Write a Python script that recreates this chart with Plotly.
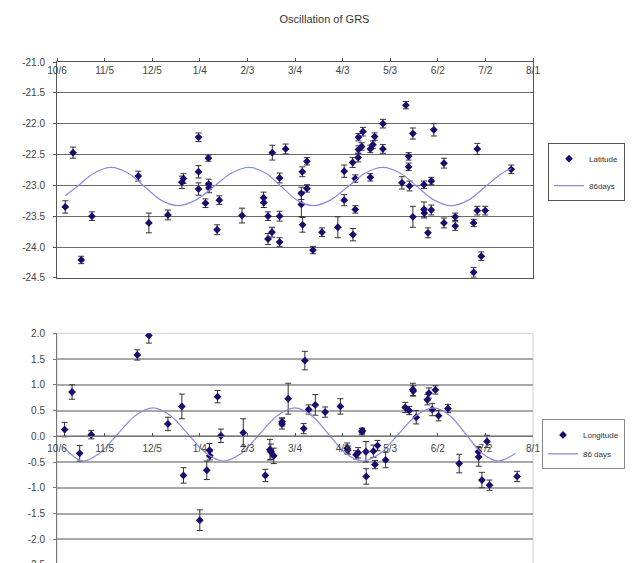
import pandas as pd
import plotly.graph_objects as go

BASE = pd.Timestamp("2007-10-06")

tick_dates = ["2007-10-06", "2007-11-05", "2007-12-05", "2008-01-04", "2008-02-03",
              "2008-03-04", "2008-04-03", "2008-05-03", "2008-06-02", "2008-07-02", "2008-08-01"]
tick_labels = ["10/6", "11/5", "12/5", "1/4", "2/3", "3/4", "4/3", "5/3", "6/2", "7/2", "8/1"]

lat_ticks = [-21.0, -21.5, -22.0, -22.5, -23.0, -23.5, -24.0, -24.5]
lon_ticks = [2.0, 1.5, 1.0, 0.5, 0.0, -0.5, -1.0, -1.5, -2.0, -2.5]

# Latitude observations (days after 10/6, value in degrees, error)
lat_days = [5.2, 10.1, 15.3, 22.0, 51.2, 57.9, 69.9, 78.7, 79.7, 89.2, 89.2, 89.2, 93.6, 95.4,
            95.6, 95.8, 100.9, 102.3, 116.6, 130.2, 130.3, 133.0, 133.0, 135.5, 135.7, 140.3,
            140.3, 140.3, 144.1, 154.0, 154.0, 154.6, 154.8, 157.5, 157.5, 161.3, 167.0, 177.0,
            181.0, 181.0, 186.3, 186.5, 188.0, 188.0, 189.8, 190.0, 190.0, 192.0, 192.8, 197.5,
            197.5, 199.1, 200.2, 205.4, 205.4, 217.4, 219.9, 221.6, 221.6, 222.2, 224.3, 224.3,
            231.3, 231.3, 231.5, 233.8, 235.9, 235.9, 237.5, 243.9, 243.9, 251.0, 251.0, 262.6,
            262.6, 264.9, 264.9, 267.4, 269.9, 286.3]
lat_vals = [-23.35, -22.47, -24.21, -23.50, -22.85, -23.61, -23.48, -22.95, -22.89, -22.22,
            -22.78, -23.06, -23.29, -22.56, -22.98, -23.04, -23.72, -23.24, -23.49, -23.20,
            -23.28, -23.50, -23.87, -23.76, -22.47, -22.88, -23.50, -23.92, -22.41, -23.13,
            -23.31, -22.78, -23.64, -22.61, -23.05, -24.05, -23.76, -23.68, -22.77, -23.24,
            -22.63, -23.80, -22.89, -23.39, -22.55, -22.42, -22.22, -22.37, -22.13, -22.87,
            -22.41, -22.34, -22.21, -22.00, -22.41, -22.96, -21.70, -22.53, -22.70, -23.01,
            -22.16, -23.51, -22.99, -23.39, -23.45, -23.77, -22.93, -23.40, -22.10, -22.64,
            -23.61, -23.51, -23.66, -23.61, -24.41, -22.41, -23.41, -24.15, -23.41, -22.74]
lat_errs = [0.10, 0.09, 0.06, 0.07, 0.08, 0.16, 0.08, 0.10, 0.08, 0.07, 0.10, 0.10, 0.07, 0.05,
            0.08, 0.08, 0.08, 0.07, 0.12, 0.09, 0.08, 0.07, 0.09, 0.08, 0.12, 0.08, 0.08, 0.07,
            0.08, 0.10, 0.20, 0.08, 0.12, 0.06, 0.06, 0.06, 0.07, 0.17, 0.10, 0.09, 0.08, 0.10,
            0.06, 0.06, 0.07, 0.06, 0.06, 0.06, 0.07, 0.06, 0.06, 0.06, 0.06, 0.07, 0.07, 0.10,
            0.06, 0.06, 0.06, 0.08, 0.09, 0.17, 0.06, 0.12, 0.08, 0.08, 0.06, 0.08, 0.10, 0.08,
            0.08, 0.06, 0.07, 0.06, 0.08, 0.09, 0.07, 0.07, 0.07, 0.07]

# 86-day curve for latitude
lat_fit_days = [5.2, 12.7, 23.5, 34.2, 44.7, 55.2, 65.6, 76.1, 87.4, 98.8, 110.1, 121.4, 131.4,
                141.4, 151.3, 161.3, 172.3, 183.4, 194.4, 205.4, 216.2, 227.0, 237.7, 248.5,
                259.3, 270.0, 280.8, 286.3]
lat_fit_vals = [-23.17, -23.02, -22.80, -22.71, -22.80, -23.02, -23.24, -23.33, -23.24, -23.02,
                -22.80, -22.71, -22.80, -23.02, -23.24, -23.33, -23.24, -23.02, -22.80, -22.71,
                -22.80, -23.02, -23.24, -23.33, -23.24, -23.02, -22.80, -22.73]

# Longitude observations
lon_days = [4.8, 9.5, 14.3, 21.6, 50.6, 57.9, 69.9, 78.7, 79.7, 90.0, 94.4, 96.1, 96.3, 101.2,
            103.3, 117.4, 131.3, 134.2, 134.8, 136.6, 141.8, 141.9, 145.7, 155.5, 156.2, 158.6,
            162.8, 169.0, 178.6, 182.9, 183.3, 188.5, 189.8, 192.2, 192.4, 194.7, 194.9, 199.4,
            200.4, 202.0, 207.1, 219.5, 222.0, 224.3, 224.5, 226.4, 233.4, 234.4, 236.5, 238.5,
            240.5, 246.4, 253.5, 265.6, 265.8, 267.8, 271.0, 272.6, 290.0]
lon_vals = [0.13, 0.86, -0.33, 0.03, 1.58, 1.96, 0.24, 0.58, -0.76, -1.63, -0.66, -0.27, -0.38,
            0.77, 0.01, 0.07, -0.76, -0.26, -0.30, -0.38, 0.24, 0.28, 0.73, 0.15, 1.47, 0.52,
            0.61, 0.47, 0.58, -0.23, -0.27, -0.36, -0.32, 0.09, 0.11, -0.30, -0.78, -0.29,
            -0.55, -0.18, -0.46, 0.56, 0.50, 0.91, 0.88, 0.37, 0.71, 0.84, 0.52, 0.90, 0.40,
            0.54, -0.53, -0.30, -0.40, -0.85, -0.10, -0.95, -0.78]
lon_errs = [0.14, 0.14, 0.15, 0.08, 0.10, 0.15, 0.13, 0.24, 0.15, 0.20, 0.18, 0.13, 0.08, 0.12,
            0.13, 0.27, 0.12, 0.20, 0.15, 0.15, 0.10, 0.08, 0.30, 0.10, 0.18, 0.09, 0.20, 0.10,
            0.15, 0.10, 0.08, 0.08, 0.10, 0.06, 0.05, 0.20, 0.15, 0.12, 0.08, 0.10, 0.15, 0.10,
            0.08, 0.12, 0.10, 0.13, 0.10, 0.10, 0.12, 0.08, 0.10, 0.08, 0.18, 0.10, 0.18, 0.15,
            0.12, 0.10, 0.10]

# 86-day curve for longitude
lon_fit_days = [4.0, 16.0, 26.8, 38.0, 49.3, 60.5, 71.6, 82.8, 93.9, 105.0, 116.3, 127.5, 138.8,
                150.0, 160.6, 171.3, 181.9, 192.5, 203.8, 215.0, 226.3, 237.5, 247.6, 257.8,
                267.9, 278.0, 289.0]
lon_fit_vals = [-0.20, -0.48, -0.33, 0.035, 0.40, 0.55, 0.40, 0.035, -0.33, -0.48, -0.33, 0.035,
                0.40, 0.55, 0.40, 0.035, -0.33, -0.48, -0.33, 0.035, 0.40, 0.55, 0.40, 0.035,
                -0.33, -0.48, -0.33]


def to_dates(days):
    return BASE + pd.to_timedelta(days, unit="D")


FONT = "Liberation Sans, Arial, sans-serif"
MARK = "#1c0a6e"
CURVE = "#8c8ce0"

fig = go.Figure()
fig.add_trace(go.Scatter(
    x=to_dates(lat_days), y=lat_vals, mode="markers", name="Latitude",
    marker=dict(symbol="diamond", size=6, color=MARK),
    error_y=dict(type="data", array=lat_errs, color="#333333", thickness=1, width=3),
    xaxis="x", yaxis="y", legend="legend", legendgroup="a"))
fig.add_trace(go.Scatter(
    x=to_dates(lat_fit_days), y=lat_fit_vals, mode="lines", name="86days",
    line=dict(color=CURVE, width=1.2, shape="spline"),
    xaxis="x", yaxis="y", legend="legend", legendgroup="b"))
fig.add_trace(go.Scatter(
    x=to_dates(lon_days), y=lon_vals, mode="markers", name="Longitude",
    marker=dict(symbol="diamond", size=6, color=MARK),
    error_y=dict(type="data", array=lon_errs, color="#333333", thickness=1, width=3),
    xaxis="x2", yaxis="y2", legend="legend2"))
fig.add_trace(go.Scatter(
    x=to_dates(lon_fit_days), y=lon_fit_vals, mode="lines", name="86 days",
    line=dict(color=CURVE, width=1.2, shape="spline"),
    xaxis="x2", yaxis="y2", legend="legend2"))

top_dom = [0.5709, 1.0]
bot_dom = [0.0, 0.4606]
lon_range = [-2.5, 2.0]
zero_pos = bot_dom[0] + (0 - lon_range[0]) / (lon_range[1] - lon_range[0]) * (bot_dom[1] - bot_dom[0])

xr = [tick_dates[0], tick_dates[-1]]
tickfont = dict(family=FONT, size=10, color="#444444")

# paper coordinates: plot area spans x 49..525 px, y 54..562 px
PW, PH = 476.0, 508.0


def px_x(px):
    return (px - 49) / PW


def px_y(py):
    return (562 - py) / PH


fig.update_layout(
    width=633, height=563,
    margin=dict(l=49, r=108, t=54, b=1),
    paper_bgcolor="white", plot_bgcolor="white",
    font=dict(family=FONT, size=10, color="#333333"),
    title=dict(text="Oscillation of GRS", x=0.5, xref="container", xanchor="center",
               y=1 - 11 / 563, yref="container", yanchor="middle",
               font=dict(family=FONT, size=11, color="#333333")),
    xaxis=dict(domain=[0, 1], anchor="y", side="top", type="date", range=xr,
               tickvals=tick_dates, ticktext=tick_labels, tickfont=tickfont,
               ticklabelposition="inside", ticklabeloverflow="allow", ticklabelstandoff=4,
               ticks="outside", ticklen=3, tickcolor="#555555",
               showgrid=False, showline=True, linecolor="#555555", linewidth=1, mirror=True,
               zeroline=False),
    yaxis=dict(domain=top_dom, anchor="x", range=[-24.5, -21.0], tickvals=lat_ticks,
               ticktext=["%.1f" % v for v in lat_ticks], tickfont=tickfont,
               ticks="outside", ticklen=3, tickcolor="#555555", ticklabelstandoff=6,
               showgrid=True, gridcolor="#6a6a6a", gridwidth=1.3,
               showline=True, linecolor="#555555", linewidth=1, mirror=True, zeroline=False),
    xaxis2=dict(domain=[0, 1], anchor="free", position=zero_pos, type="date",
                range=xr, tickvals=tick_dates, ticktext=tick_labels, tickfont=tickfont,
                ticks="inside", ticklen=3, tickcolor="#555555", ticklabelstandoff=3,
                ticklabeloverflow="allow",
                showgrid=False, showline=True, linecolor="#777777", linewidth=1, zeroline=False),
    yaxis2=dict(domain=bot_dom, anchor="x2", range=lon_range, tickvals=lon_ticks,
                ticktext=["%.1f" % v for v in lon_ticks], tickfont=tickfont,
                ticks="outside", ticklen=3, tickcolor="#777777", ticklabelstandoff=6,
                showgrid=True, gridcolor="#a8a8a8", gridwidth=1.5, automargin=False,
                showline=True, linecolor="#777777", linewidth=1, zeroline=False),
    legend=dict(xref="paper", yref="paper", x=px_x(540), y=px_y(136),
                xanchor="left", yanchor="top", bgcolor="white", bordercolor="#555555",
                borderwidth=1, font=dict(family=FONT, size=8, color="#333333"),
                tracegroupgap=8, itemwidth=30),
    legend2=dict(xref="paper", yref="paper", x=px_x(534), y=px_y(415),
                 xanchor="left", yanchor="top", bgcolor="white", bordercolor="#888888",
                 borderwidth=1, font=dict(family=FONT, size=8, color="#333333"),
                 tracegroupgap=0, itemwidth=30),
    showlegend=True,
)

# light frame on top/right of the lower plot area
fig.add_shape(type="rect", xref="x2 domain", yref="y2 domain", x0=0, x1=1, y0=0, y1=1,
              line=dict(color="#d0d0d0", width=1), layer="below")

fig.write_html("out.html")
